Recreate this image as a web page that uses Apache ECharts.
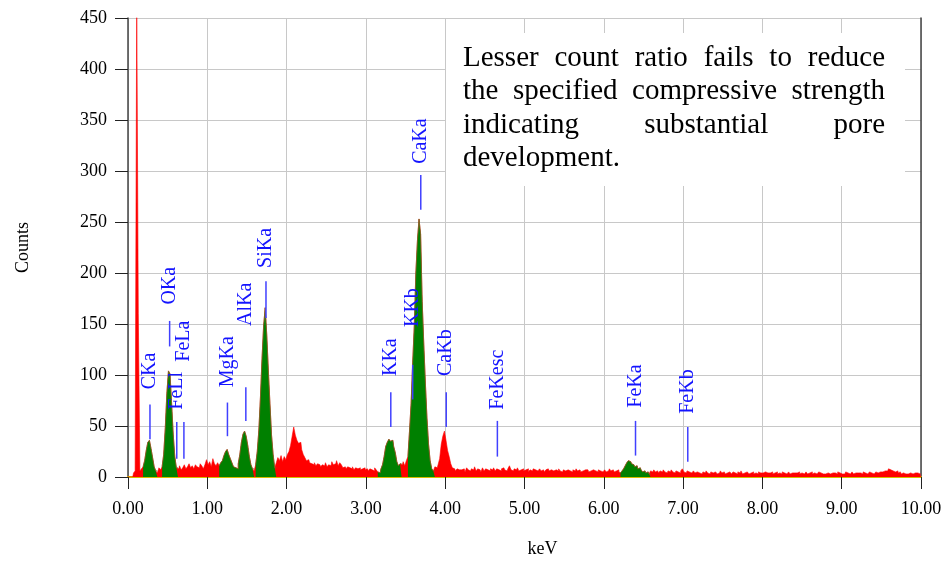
<!DOCTYPE html>
<html><head><meta charset="utf-8">
<script src="https://cdn.jsdelivr.net/npm/echarts/dist/echarts.min.js"></script>
<style>html,body{margin:0;padding:0;background:#fff}#c{width:948px;height:563px}</style>
</head><body><div id="c"></div>
<script>
// ---- data ----
const channelWidth = 0.02; // keV per channel, channel 0 = 0.00 keV
const counts = [
  0,0,0,0,4,6,470,160,6,8,
  10,16,26,34,36,28,19,10,6,4,
  9,7,10,22,48,82,104,101,72,42,
  20,9,8,11,7,9,12,8,10,13,
  9,11,8,12,10,9,13,11,8,12,
  17,12,15,10,18,13,11,14,11,14,
  16,21,25,27,22,18,14,10,9,8,
  13,22,34,42,45,40,31,20,12,8,
  6,12,25,46,78,116,148,166,139,104,
  72,41,22,9,14,19,16,21,15,20,
  17,22,25,31,40,49,41,36,33,34,
  27,22,19,16,17,14,13,12,14,11,
  13,12,10,12,11,14,10,12,11,15,
  12,13,16,11,14,12,9,10,8,10,
  9,8,10,7,9,8,9,7,8,9,
  7,8,6,8,7,6,9,7,5,4,
  8,12,20,30,34,37,35,36,30,24,
  15,11,13,12,15,11,16,20,45,72,
  112,148,200,232,253,238,172,130,92,58,
  32,16,8,6,10,9,12,18,32,40,
  45,36,26,20,13,9,8,6,8,7,
  7,6,8,5,9,7,6,8,7,10,
  6,8,7,5,9,6,8,7,6,8,
  7,9,6,8,7,6,8,9,7,6,
  8,11,7,6,8,7,9,6,7,8,
  6,7,8,5,7,6,8,7,6,7,
  8,6,7,5,7,8,6,7,6,5,
  7,6,8,6,5,7,6,7,8,6,
  5,7,6,8,6,7,5,6,7,6,
  7,5,6,7,8,6,5,7,6,5,
  6,7,5,6,8,6,7,5,6,7,
  5,4,6,8,11,14,16,15,13,12,
  10,11,8,9,7,5,6,4,5,3,
  6,5,7,5,6,4,6,5,7,5,
  4,6,5,7,5,4,6,5,4,6,
  8,5,4,6,5,4,5,6,4,5,
  4,5,3,5,4,6,4,3,5,4,
  5,4,3,4,6,4,5,3,4,5,
  4,3,5,4,3,5,4,6,3,4,
  5,4,3,4,5,3,4,3,5,4,
  4,3,5,4,3,4,5,3,4,5,
  3,4,3,5,4,3,4,5,3,4,
  4,3,4,5,3,4,3,4,5,3,
  4,5,3,4,3,4,5,4,3,4,
  3,4,5,3,4,3,4,3,5,4,
  3,4,3,5,4,3,4,5,3,4,
  4,3,4,3,5,4,3,4,5,4,
  3,4,5,4,5,6,5,6,7,6,
  8,7,6,7,5,6,4,5,3,4,
  3,4,3,4,5,3,4,3,4,3,
  3
];
// fitted (identified) peak windows, keV
const peakWindows = [[0.20,0.36],[0.44,0.62],[1.16,1.36],[1.38,1.58],[1.62,1.86],[3.16,3.44],[3.54,3.86],[6.22,6.58]];
// peak markers
const lineNames   = ['CKa','OKa','FeLl','FeLa','MgKa','AlKa','SiKa','KKa','KKb','CaKa','CaKb','FeKesc','FeKa','FeKb'];
const lineEnergy  = [0.277,0.525,0.615,0.705,1.254,1.486,1.740,3.314,3.590,3.692,4.013,4.658,6.400,7.059];
const markerTop   = [71,153,54,54,73,88,192,83,110,296,83,55,55,49];
const markerBot   = [37,128,18,18,40,55,156,49,76,262,49,20,21,15];
const nameBase    = [86,169,66,113,88,148,205,99,147,307,99,66,68,62];
const xMin = 0, xMax = 10, xStep = 1;
const yMin = 0, yMax = 450, yStep = 50;
const xTitle = 'keV', yTitle = 'Counts';
const noteLines = ['Lesser count ratio fails to reduce','the specified compressive strength','indicating substantial pore','development.'];

// ---- build ----
const FONT = '"Liberation Serif", "Times New Roman", serif';
const redData = counts.map((c,i)=>[+(i*channelWidth).toFixed(2), c]);
const greenData = counts.map((c,i)=>{
  const e = +(i*channelWidth).toFixed(2);
  const inside = peakWindows.some(w => e >= w[0]-1e-9 && e <= w[1]+1e-9);
  return [e, inside ? c : null];
});
const markerData = lineEnergy.map((e,i)=>[e, markerTop[i], markerBot[i], nameBase[i]]);

// justified note text
const noteFontSize = 29;
const noteFont = noteFontSize + 'px ' + FONT;
const ctx = document.createElement('canvas').getContext('2d');
ctx.font = noteFont;
const noteLeft = 463, noteRight = 885, noteBase0 = 67, noteStep = 33.5;
const noteEls = [{type:'rect', shape:{x:446,y:33,width:459,height:153}, style:{fill:'#fff'}, z:100}];
noteLines.forEach((ln, li) => {
  const words = ln.split(' ');
  const widths = words.map(w => ctx.measureText(w).width);
  const total = widths.reduce((a,b)=>a+b,0);
  const last = li === noteLines.length - 1;
  const gap = (!last && words.length > 1) ? (noteRight - noteLeft - total)/(words.length-1) : ctx.measureText(' ').width;
  let x = noteLeft;
  words.forEach((w, wi) => {
    noteEls.push({type:'text', x:x, y:noteBase0 + li*noteStep - noteFontSize*0.3, z:101,
      style:{text:w, font:noteFont, fill:'#000', align:'left', verticalAlign:'middle'}});
    x += widths[wi] + gap;
  });
});

const chart = echarts.init(document.getElementById('c'), null, {renderer:'canvas'});
chart.setOption({
  animation:false,
  backgroundColor:'#fff',
  grid:{left:128, right:27, top:18, bottom:85},
  xAxis:{type:'value', min:xMin, max:xMax, interval:xStep,
    name:xTitle, nameLocation:'middle', nameGap:63,
    nameTextStyle:{fontFamily:FONT, fontSize:18, color:'#000', padding:[0,0,0,36]},
    axisLine:{show:true, onZero:false, lineStyle:{color:'#d8bc00', width:2}},
    axisTick:{show:true, length:12, lineStyle:{color:'#222'}},
    axisLabel:{fontFamily:FONT, fontSize:18, color:'#000', margin:23, formatter:v=>v.toFixed(2)},
    splitLine:{show:true, lineStyle:{color:'#c8c8c8', width:1}}},
  yAxis:[{type:'value', min:yMin, max:yMax, interval:yStep,
    name:yTitle, nameLocation:'middle', nameGap:96,
    nameTextStyle:{fontFamily:FONT, fontSize:18, color:'#000'},
    axisLine:{show:true, lineStyle:{color:'#444', width:1.5}},
    axisTick:{show:true, length:13, lineStyle:{color:'#222'}},
    axisLabel:{fontFamily:FONT, fontSize:18, color:'#000', margin:21},
    splitLine:{show:true, lineStyle:{color:'#c8c8c8', width:1}}},
   {type:'value', min:yMin, max:yMax, interval:yStep, position:'right',
    axisLine:{show:true, lineStyle:{color:'#444', width:1.5}},
    axisTick:{show:false}, axisLabel:{show:false}, splitLine:{show:false}}],
  graphic: noteEls,
  series:[
    {type:'line', data:redData, step:'middle', symbol:'none', z:2,
      lineStyle:{color:'#ff0000', width:0.6}, areaStyle:{color:'#ff0000', opacity:1}},
    {type:'line', data:greenData, step:'middle', symbol:'none', z:3, connectNulls:false,
      lineStyle:{color:'#7a6a2a', width:0.8}, areaStyle:{color:'#008000', opacity:1}},
    {type:'custom', data:markerData, z:4, clip:false,
      renderItem:(params, api)=>{
        const e = api.value(0);
        const a = api.coord([e, api.value(1)]);
        const b = api.coord([e, api.value(2)]);
        const t = api.coord([e, api.value(3)]);
        return {type:'group', children:[
          {type:'line', shape:{x1:a[0],y1:a[1],x2:b[0],y2:b[1]}, style:{stroke:'#4040ff', lineWidth:1.5}},
          {type:'text', x:t[0], y:t[1], rotation:Math.PI/2,
            style:{text:lineNames[params.dataIndex], font:'20px ' + FONT, fill:'#1414ff', align:'left', verticalAlign:'middle'}}
        ]};
      }}
  ]
});
</script></body></html>
